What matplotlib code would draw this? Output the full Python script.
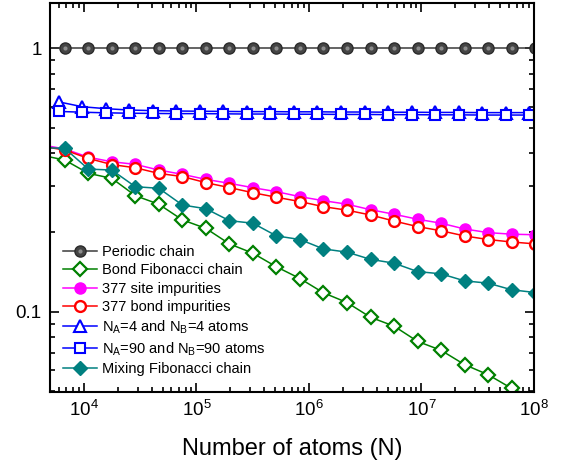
import matplotlib
matplotlib.use("Agg")
import matplotlib.pyplot as plt
from matplotlib.ticker import LogLocator, NullFormatter, FixedLocator, FixedFormatter, LogFormatterMathtext

plt.rcParams["font.family"] = ["Liberation Sans", "DejaVu Sans"]
plt.rcParams["mathtext.fontset"] = "custom"
plt.rcParams["mathtext.rm"] = "Liberation Sans"
plt.rcParams["mathtext.it"] = "Liberation Sans:italic"
plt.rcParams["mathtext.bf"] = "Liberation Sans:bold"

# ==============================
# DATA
# ==============================

# chain sizes (Fibonacci numbers)
n_fib = [4181, 6765, 10946, 17711, 28657, 46368, 75025, 121393, 196418,
         317811, 514229, 832040, 1346269, 2178309, 3524578, 5702887,
         9227465, 14930352, 24157817, 39088169, 63245986, 102334155]

# chain sizes for the A/B block chains
n_block = [5990, 9690, 15670, 25360, 41040, 66400, 107400, 173800, 281300,
           455100, 736400, 1191000, 1928000, 3119000, 5047000, 8166000,
           13210000, 21380000, 34590000, 55970000, 90570000]

periodic = [1.0, 1.0, 1.0, 1.0, 1.0, 1.0, 1.0, 1.0, 1.0, 1.0, 1.0,
            1.0, 1.0, 1.0, 1.0, 1.0, 1.0, 1.0, 1.0, 1.0, 1.0, 1.0]

bond_fib = [0.393, 0.3765, 0.3353, 0.3209, 0.2758, 0.2559, 0.2232, 0.2072,
            0.1810, 0.1668, 0.1481, 0.1337, 0.1180, 0.1084, 0.0953, 0.0882,
            0.0772, 0.0714, 0.0630, 0.0577, 0.0512, 0.0470]

site_377 = [0.430, 0.415, 0.386, 0.371, 0.3626, 0.345, 0.3324, 0.318, 0.3073,
            0.2957, 0.2857, 0.2734, 0.264, 0.256, 0.244, 0.2345, 0.2245,
            0.2168, 0.2062, 0.1997, 0.197, 0.196]

bond_377 = [0.425, 0.411, 0.382, 0.362, 0.352, 0.335, 0.326, 0.309, 0.296,
            0.283, 0.272, 0.262, 0.2505, 0.243, 0.233, 0.221, 0.2105, 0.203,
            0.194, 0.188, 0.184, 0.181]

na4 = [0.626, 0.600, 0.590, 0.583, 0.580, 0.578, 0.577, 0.576, 0.575, 0.575,
       0.574, 0.574, 0.573, 0.573, 0.572, 0.572, 0.571, 0.571, 0.570, 0.570,
       0.570]

na90 = [0.576, 0.572, 0.569, 0.567, 0.566, 0.565, 0.565, 0.564, 0.563, 0.563,
        0.562, 0.562, 0.561, 0.561, 0.560, 0.560, 0.559, 0.559, 0.558, 0.558,
        0.558]

mixing_fib = [0.420, 0.417, 0.348, 0.345, 0.2983, 0.2942, 0.2542, 0.2461,
              0.2217, 0.2168, 0.1941, 0.1880, 0.1732, 0.1684, 0.1581, 0.1529,
              0.1421, 0.1393, 0.1310, 0.1284, 0.1212, 0.1183]

labels = [
    "Periodic chain",
    "Bond Fibonacci chain",
    "377 site impurities",
    "377 bond impurities",
    r"N$_\mathregular{A}$=4 and N$_\mathregular{B}$=4 atoms",
    r"N$_\mathregular{A}$=90 and N$_\mathregular{B}$=90 atoms",
    "Mixing Fibonacci chain",
]

# ==============================
# PLOT
# ==============================

fig = plt.figure(figsize=(5.71, 4.65), dpi=100)
ax = fig.add_axes([0.0876, 0.157, 0.8476, 0.8366])

lw = 1.1
h_per, = ax.plot(n_fib, periodic, "-o", color="#3a3a3a", mfc="#454545",
                 mec="#2b2b2b", ms=8.0, lw=lw)
# lighter core so the periodic markers read as shaded balls
h_shine, = ax.plot(n_fib, periodic, "o", color="#8c8c8c", mec="none", ms=3.0)
h_bond, = ax.plot(n_fib, bond_fib, "-D", color="#008000", mfc="white",
                  mec="#008000", ms=7.0, mew=1.6, lw=lw)
h_site, = ax.plot(n_fib, site_377, "-o", color="#ff00ff", mfc="#ff00ff",
                  mec="#ff00ff", ms=8.0, lw=lw)
h_b377, = ax.plot(n_fib, bond_377, "-o", color="#ff0000", mfc="white",
                  mec="#ff0000", ms=7.8, mew=1.7, lw=lw)
h_na4, = ax.plot(n_block, na4, "-^", color="#0000ff", mfc="white",
                 mec="#0000ff", ms=8.4, mew=1.5, lw=lw)
h_na90, = ax.plot(n_block, na90, "-s", color="#0000ff", mfc="white",
                  mec="#0000ff", ms=7.0, mew=1.5, lw=lw)
h_mix, = ax.plot(n_fib, mixing_fib, "-D", color="#008080", mfc="#008080",
                 mec="#008080", ms=7.2, lw=lw)

ax.set_xscale("log")
ax.set_yscale("log")
ax.set_xlim(5000, 1e8)
ax.set_ylim(0.0496, 1.486)

# ==============================
# TICKS AND FRAME
# ==============================

ax.xaxis.set_major_locator(LogLocator(base=10, numticks=10))
ax.xaxis.set_major_formatter(LogFormatterMathtext())
ax.xaxis.set_minor_locator(LogLocator(base=10, subs=range(2, 10), numticks=10))
ax.xaxis.set_minor_formatter(NullFormatter())

ax.yaxis.set_major_locator(FixedLocator([0.1, 1]))
ax.yaxis.set_major_formatter(FixedFormatter(["0.1", "1"]))
ax.yaxis.set_minor_locator(LogLocator(base=10, subs=range(2, 10), numticks=10))
ax.yaxis.set_minor_formatter(NullFormatter())

ax.tick_params(which="both", direction="in", top=True, right=True,
               width=1.2, labelsize=13.5)
ax.tick_params(which="major", length=6.5, pad=6)
ax.tick_params(which="minor", length=3.5)

for spine in ax.spines.values():
    spine.set_linewidth(1.5)

ax.set_xlabel("Number of atoms (N)", fontsize=17, labelpad=13)

handles = [(h_per, h_shine), h_bond, h_site, h_b377, h_na4, h_na90, h_mix]
ax.legend(handles, labels, loc="lower left", bbox_to_anchor=(0.027, 0.041),
          frameon=False, fontsize=10.5, borderpad=0, borderaxespad=0,
          handlelength=2.35, handletextpad=0.3, labelspacing=0.3)

fig.savefig("out.png", dpi=100)
